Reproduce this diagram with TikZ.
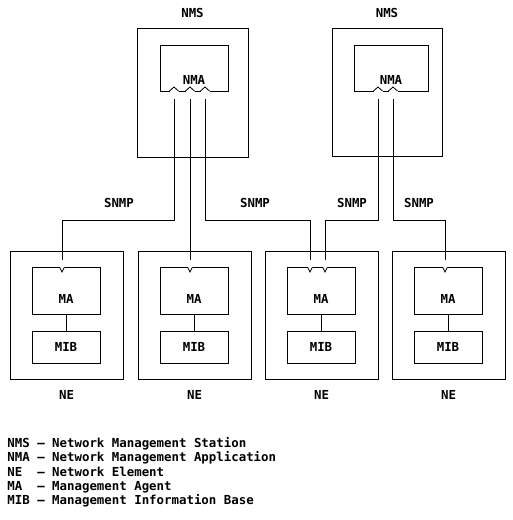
\documentclass[tikz,border=0pt]{standalone}
\usepackage{fontspec}
\setmainfont{DejaVu Sans Mono}
\tikzset{
  font={\fontsize{12.4pt}{14.3pt}\selectfont\bfseries}}

\begin{document}
\begin{tikzpicture}[x=1pt,y=-1pt,line width=0.8pt]
\tikzstyle{every node}+=[inner sep=0pt]
\tikzstyle{box}=[draw=black,rectangle,line width=0.8pt]
\useasboundingbox (0,0) rectangle (513,520);
% management stations
\node [box,minimum width=111pt,minimum height=129pt] (nms1) at (192.5,92.5) {};
\node (nms1lbl) at (192.5,13) {NMS};
\node [box,minimum width=68pt,minimum height=46pt] (nma1) at (194,68) {};
\node (nma1lbl) at (194,80) {NMA};
\node [box,minimum width=110pt,minimum height=128pt] (nms2) at (387,92.5) {};
\node (nms2lbl) at (387,13) {NMS};
\node [box,minimum width=74pt,minimum height=46pt] (nma2) at (391,68) {};
\node (nma2lbl) at (391,80) {NMA};
% bumps on the NMA boxes
\foreach \x in {174,190,205,378,393} {
  \fill [white] (\x-4.5,89.5) rectangle (\x+4.5,92.5);
  \draw [black] (\x-4.5,91) -- (\x,87) -- (\x+4.5,91);
}
% network elements
\foreach \L/\n in {10/1,138/2,265/3,392/4} {
  \node [box,minimum width=113pt,minimum height=128pt] (ne\n) at (\L+56.5,315) {};
  \node (ne\n lbl) at (\L+56.5,395) {NE};
  \node [box,minimum width=68pt,minimum height=47pt] (ma\n) at (\L+56,290.5) {};
  \node (ma\n lbl) at (\L+56,299) {MA};
  \node [box,minimum width=68pt,minimum height=32pt] (mib\n) at (\L+56,347) {MIB};
  \draw [black] (ma\n.south) -- (mib\n.north);
}
% agent ports
\foreach \x in {62,190,310,325,445} {
  \fill [white] (\x-2.5,265.5) rectangle (\x+2.5,268.5);
  \draw [black] (\x-2.5,267) -- (\x,272) -- (\x+2.5,267);
}
\coordinate (nma1a) at (174,99);
\coordinate (nma1b) at (190,99);
\coordinate (nma1c) at (205,99);
\coordinate (nma2a) at (378,99);
\coordinate (nma2b) at (393,99);
\coordinate (ma1in) at (62,260);
\coordinate (ma2in) at (190,260);
\coordinate (ma3a) at (310,260);
\coordinate (ma3b) at (325,260);
\coordinate (ma4in) at (445,260);
% snmp links
\draw [black] (nma1a) -- ++(0,121) -| (ma1in);
\draw [black] (nma1b) -- (ma2in);
\draw [black] (nma1c) -- ++(0,121) -| (ma3a);
\draw [black] (nma2a) -- ++(0,121) -| (ma3b);
\draw [black] (nma2b) -- ++(0,121) -| (ma4in);
\node (snmp1) at (119,203) {SNMP};
\node (snmp2) at (255,203) {SNMP};
\node (snmp3) at (352,203) {SNMP};
\node (snmp4) at (419,203) {SNMP};
% legend
\node [anchor=north west,align=left] (legend) at (7,437) {NMS — Network Management Station\\
NMA — Network Management Application\\
NE\ \ — Network Element\\
MA\ \ — Management Agent\\
MIB — Management Information Base};
\end{tikzpicture}
\end{document}
